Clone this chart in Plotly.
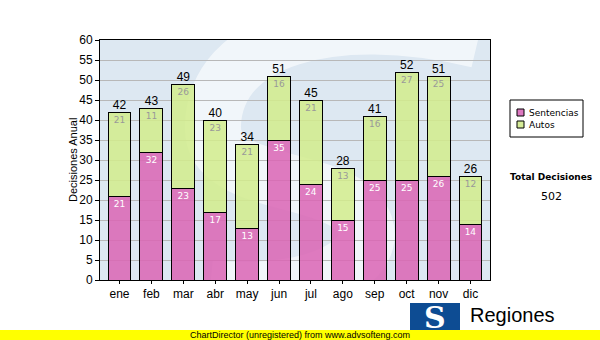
import plotly.graph_objects as go

# Monthly decisions, split by type
months = ["ene", "feb", "mar", "abr", "may", "jun", "jul", "ago", "sep", "oct", "nov", "dic"]
sentencias = [21, 32, 23, 17, 13, 35, 24, 15, 25, 25, 26, 14]
autos = [21, 11, 26, 23, 21, 16, 21, 13, 16, 27, 25, 12]
totals = [s + a for s, a in zip(sentencias, autos)]
grand_total = sum(totals)

series_names = ["Sentencias", "Autos"]
series_colors = ["rgba(218,100,180,0.85)", "rgba(210,236,140,0.85)"]
legend_swatches = ["#dd78c0", "#d6ec98"]

W, H = 600, 340
L, R, T, B = 100, 110, 40, 60
PW, PH = W - L - R, H - T - B


def px(x):
    return (x - L) / PW


def py(y):
    return (H - B - y) / PH


fig = go.Figure()

fig.add_trace(go.Bar(
    name=series_names[0], x=months, y=sentencias,
    marker=dict(color=series_colors[0], line=dict(color="black", width=1)),
    text=[str(v) for v in sentencias], textposition="inside", insidetextanchor="end",
    textfont=dict(family="DejaVu Sans", size=9, color="white"),
    hoverinfo="skip",
))
fig.add_trace(go.Bar(
    name=series_names[1], x=months, y=autos,
    marker=dict(color=series_colors[1], line=dict(color="black", width=1)),
    text=[str(v) for v in autos], textposition="inside", insidetextanchor="end",
    textfont=dict(family="DejaVu Sans", size=9, color="#999999"),
    hoverinfo="skip",
))
fig.add_trace(go.Scatter(
    x=months, y=totals, mode="text", text=[str(v) for v in totals],
    textposition="top center", showlegend=False,
    textfont=dict(family="Liberation Sans", size=12, color="black"),
    hoverinfo="skip",
))


def path_px(cmds):
    out = []
    for c in cmds:
        if isinstance(c, str):
            out.append(c)
        else:
            out.append(f"{px(c[0]):.4f},{py(c[1]):.4f}")
    return " ".join(out)


# faint "S" watermark behind the bars
s_path = path_px(["M", (478, 40), "C", (330, 5), (216, 40), (213, 125),
                  "C", (210, 185), (320, 175), (355, 210),
                  "C", (395, 250), (330, 300), (210, 288)])

shapes = [
    dict(type="path", xref="paper", yref="paper", path=s_path, layer="below",
         line=dict(color="rgba(255,255,255,0.6)", width=56)),
    # legend box and swatches
    dict(type="rect", xref="paper", yref="paper", x0=px(510), x1=px(583), y0=py(100), y1=py(137),
         fillcolor="white", line=dict(color="black", width=1), layer="above"),
    dict(type="rect", xref="paper", yref="paper", x0=px(517), x1=px(524), y0=py(109), y1=py(116),
         fillcolor=legend_swatches[0], line=dict(color="black", width=1), layer="above"),
    dict(type="rect", xref="paper", yref="paper", x0=px(517), x1=px(524), y0=py(121), y1=py(128),
         fillcolor=legend_swatches[1], line=dict(color="black", width=1), layer="above"),
    # footer strip
    dict(type="rect", xref="paper", yref="paper", x0=px(0), x1=px(600), y0=py(330), y1=py(340),
         fillcolor="#ffff00", line=dict(width=0), layer="above"),
    # logo block
    dict(type="rect", xref="paper", yref="paper", x0=px(410), x1=px(460), y0=py(303), y1=py(330),
         fillcolor="#0d4c93", line=dict(width=0), layer="above"),
]

annotations = [
    dict(text="Decisiones Anual", xref="paper", yref="paper", x=px(73), y=py(160),
         showarrow=False, xanchor="center", yanchor="middle", textangle=-90,
         font=dict(family="Liberation Sans", size=11, color="black")),
    dict(text=series_names[0], xref="paper", yref="paper", x=px(527), y=py(113), showarrow=False,
         xanchor="left", yanchor="middle", font=dict(family="DejaVu Sans", size=9, color="black")),
    dict(text=series_names[1], xref="paper", yref="paper", x=px(527), y=py(125), showarrow=False,
         xanchor="left", yanchor="middle", font=dict(family="DejaVu Sans", size=9, color="black")),
    dict(text="ChartDirector (unregistered) from www.advsofteng.com", xref="paper", yref="paper",
         x=px(300), y=py(335), showarrow=False, xanchor="center", yanchor="middle",
         font=dict(family="Liberation Sans", size=9, color="black")),
    dict(text="<b>S</b>", xref="paper", yref="paper", x=px(435), y=py(317), showarrow=False,
         xanchor="center", yanchor="middle",
         font=dict(family="DejaVu Serif", size=30, color="white")),
    dict(text="Regiones", xref="paper", yref="paper", x=px(468), y=py(315), showarrow=False,
         xanchor="left", yanchor="middle",
         font=dict(family="Liberation Sans", size=20, color="black")),
    dict(text="<b>Total Decisiones</b>", xref="paper", yref="paper", x=px(551), y=py(177),
         showarrow=False, xanchor="center", yanchor="middle",
         font=dict(family="DejaVu Sans", size=9, color="black")),
    dict(text=str(grand_total), xref="paper", yref="paper", x=px(551), y=py(196),
         showarrow=False, xanchor="center", yanchor="middle",
         font=dict(family="DejaVu Sans", size=11, color="black")),
]

fig.update_layout(
    width=W, height=H, margin=dict(l=L, r=R, t=T, b=B, autoexpand=False),
    barmode="stack", bargap=0.28,
    paper_bgcolor="white", plot_bgcolor="#dde8f2",
    font=dict(family="Liberation Sans", size=12, color="black"),
    shapes=shapes, annotations=annotations,
    showlegend=False,
    xaxis=dict(showline=True, linecolor="black", linewidth=1, mirror=True,
               ticks="outside", ticklen=3, tickcolor="black",
               tickfont=dict(family="Liberation Sans", size=12), fixedrange=True),
    yaxis=dict(range=[0, 60], dtick=5, showline=True, linecolor="black", linewidth=1,
               mirror=True, ticks="outside", ticklen=4, tickcolor="black",
               gridcolor="#b8b8b8", gridwidth=1, zeroline=False,
               tickfont=dict(family="Liberation Sans", size=12)),
)

fig.write_html("out.html")
